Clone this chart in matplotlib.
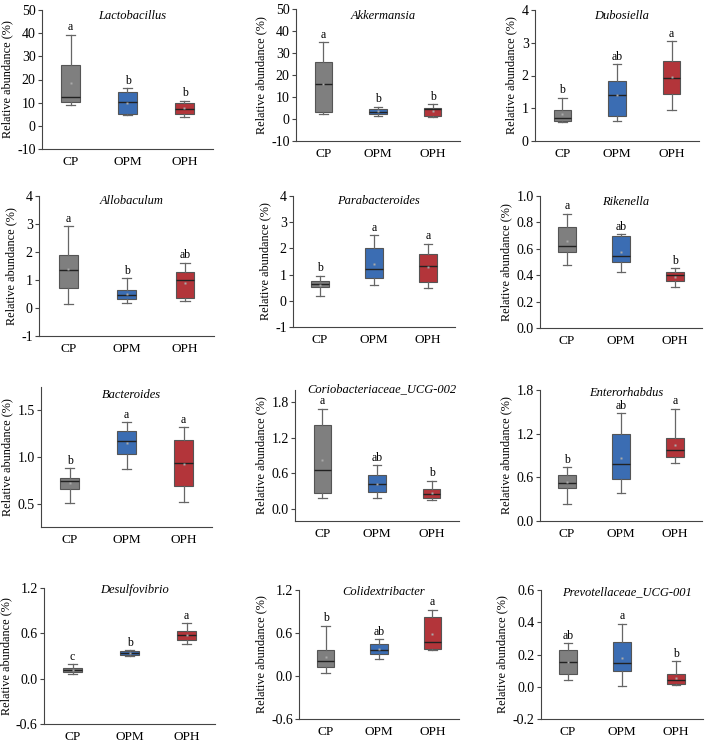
import matplotlib
matplotlib.use("Agg")
import matplotlib.pyplot as plt
from matplotlib.ticker import FormatStrFormatter

plt.rcParams['font.family'] = ['Liberation Serif', 'DejaVu Serif']
plt.rcParams['axes.unicode_minus'] = False

groups = ["CP", "OPM", "OPH"]
colors = ["#7f7f7f", "#3b6db3", "#b3353a"]

taxa = ["Lactobacillus", "Akkermansia", "Dubosiella",
        "Allobaculum", "Parabacteroides", "Rikenella",
        "Bacteroides", "Coriobacteriaceae_UCG-002", "Enterorhabdus",
        "Desulfovibrio", "Colidextribacter", "Prevotellaceae_UCG-001"]

# box statistics per taxon, one value per group (CP, OPM, OPH)
whis_lo = [[8.9, 4.8, 3.7], [2.1, 1.5, 0.8], [0.57, 0.60, 0.94],
           [0.16, 0.19, 0.24], [0.20, 0.61, 0.48], [0.481, 0.428, 0.311],
           [0.507, 0.867, 0.518], [0.189, 0.183, 0.161], [0.229, 0.38, 0.792],
           [0.066, 0.299, 0.461], [0.046, 0.237, 0.357], [0.043, 0.004, 0.008]]
q1 = [[10.5, 5.1, 5.0], [3.3, 2.3, 1.4], [0.62, 0.76, 1.42],
      [0.70, 0.31, 0.35], [0.53, 0.86, 0.73], [0.577, 0.499, 0.357],
      [0.662, 1.036, 0.691], [0.267, 0.294, 0.189], [0.454, 0.577, 0.884],
      [0.088, 0.316, 0.509], [0.121, 0.306, 0.371], [0.078, 0.099, 0.016]]
med = [[12.4, 10.1, 7.3], [15.8, 3.3, 4.4], [0.69, 1.39, 1.93],
       [1.34, 0.45, 1.00], [0.65, 1.20, 1.33], [0.620, 0.542, 0.400],
       [0.741, 1.173, 0.932], [0.656, 0.422, 0.256], [0.518, 0.779, 0.971],
       [0.114, 0.338, 0.584], [0.204, 0.366, 0.468], [0.153, 0.146, 0.043]]
q3 = [[26.3, 14.4, 9.8], [26.1, 4.6, 5.2], [0.94, 1.84, 2.44],
      [1.89, 0.63, 1.29], [0.77, 2.00, 1.77], [0.767, 0.694, 0.425],
      [0.780, 1.280, 1.183], [1.406, 0.567, 0.333], [0.627, 1.190, 1.145],
      [0.136, 0.360, 0.628], [0.357, 0.450, 0.830], [0.225, 0.276, 0.082]]
whis_hi = [[39.3, 16.3, 10.9], [34.9, 5.6, 6.7], [1.32, 2.35, 3.05],
           [2.92, 1.07, 1.62], [0.96, 2.51, 2.18], [0.866, 0.711, 0.451],
           [0.878, 1.374, 1.320], [1.683, 0.739, 0.478], [0.737, 1.480, 1.544],
           [0.189, 0.378, 0.737], [0.700, 0.515, 0.923], [0.270, 0.390, 0.157]]
means = [[18.4, 10.0, 7.5], [16.0, 3.5, 3.8], [0.81, 1.40, 1.95],
         [1.38, 0.50, 0.90], [0.62, 1.40, 1.30], [0.66, 0.577, 0.39],
         [0.72, 1.15, 0.93], [0.82, 0.42, 0.27], [0.54, 0.87, 1.05],
         [0.12, 0.34, 0.58], [0.27, 0.37, 0.58], [0.155, 0.18, 0.055]]
letters = [["a", "b", "b"], ["a", "b", "b"], ["b", "ab", "a"],
           ["a", "b", "ab"], ["b", "a", "a"], ["a", "ab", "b"],
           ["b", "a", "a"], ["a", "ab", "b"], ["b", "ab", "a"],
           ["c", "b", "a"], ["b", "ab", "a"], ["ab", "a", "b"]]

ylims = [(-10, 50), (-10, 50), (0, 4), (-1, 4), (-1, 4), (0, 1.0),
         (0.25, 1.75), (-0.2, 2.0), (0, 1.8), (-0.6, 1.2), (-0.6, 1.2), (-0.2, 0.6)]
yticks = [[-10, 0, 10, 20, 30, 40, 50], [-10, 0, 10, 20, 30, 40, 50], [0, 1, 2, 3, 4],
          [-1, 0, 1, 2, 3, 4], [-1, 0, 1, 2, 3, 4], [0, 0.2, 0.4, 0.6, 0.8, 1.0],
          [0.5, 1.0, 1.5], [0, 0.6, 1.2, 1.8], [0, 0.6, 1.2, 1.8],
          [-0.6, 0, 0.6, 1.2], [-0.6, 0, 0.6, 1.2], [-0.2, 0, 0.2, 0.4, 0.6]]
fmts = ["%d", "%d", "%d", "%d", "%d", "%.1f", "%.1f", "%.1f", "%.1f", "%.1f", "%.1f", "%.1f"]

# panel rectangles in pixels: left, top, right, bottom
rects = [(42, 10, 213, 149), (296, 9, 460, 141), (535, 10, 699, 141),
         (39, 196, 214, 336), (293, 196, 455, 327), (540, 196, 702, 328),
         (41, 387, 212, 527), (295, 390, 459, 521), (540, 390, 702, 521),
         (44, 588, 215, 724), (299, 590, 459, 719), (541, 590, 703, 719)]
# how far the italic name sits below the top of each panel, in pixels
title_drop = [6, 7, 6, 5.5, 5, 6, 8, -1, 2.5, 2, 2, 2]

W, H = 708, 745
fig = plt.figure(figsize=(W / 100, H / 100), dpi=100)

for k, name in enumerate(taxa):
    l, t, r, b = rects[k]
    ax = fig.add_axes([l / W, 1 - b / H, (r - l) / W, (b - t) / H])
    stats = []
    for j, g in enumerate(groups):
        stats.append(dict(label=g, whislo=whis_lo[k][j], q1=q1[k][j], med=med[k][j],
                          q3=q3[k][j], whishi=whis_hi[k][j], mean=means[k][j]))
    bp = ax.bxp(stats, positions=[1, 2, 3], widths=0.32, capwidths=0.16,
                patch_artist=True, showmeans=True, showfliers=False,
                boxprops=dict(edgecolor="#555555", linewidth=0.8),
                medianprops=dict(color="#222222", linewidth=1.0),
                whiskerprops=dict(color="#666666", linewidth=0.9),
                capprops=dict(color="#666666", linewidth=0.9),
                meanprops=dict(marker="s", markersize=1.5, markerfacecolor="#aaaaaa",
                               markeredgecolor="none"))
    for patch, c in zip(bp["boxes"], colors):
        patch.set_facecolor(c)

    for j in range(3):
        ax.annotate(letters[k][j], (j + 1, whis_hi[k][j]), xytext=(0, 1),
                    textcoords="offset points", ha="center", va="bottom", fontsize=8.5)

    ax.set_xlim(0.5, 3.5)
    ax.set_ylim(*ylims[k])
    ax.set_yticks(yticks[k])
    ax.yaxis.set_major_formatter(FormatStrFormatter(fmts[k]))
    ax.set_xticks([1, 2, 3])
    ax.set_xticklabels(groups)
    ax.tick_params(axis="y", direction="out", length=3, width=0.8, labelsize=10,
                   pad=1.5, color="#444444")
    ax.tick_params(axis="x", length=0, labelsize=9.5, pad=5)
    for s in ["top", "right"]:
        ax.spines[s].set_visible(False)
    for s in ["left", "bottom"]:
        ax.spines[s].set_color("#444444")
        ax.spines[s].set_linewidth(0.8)
    ax.set_ylabel("Relative abundance (%)", fontsize=8.8, labelpad=3)
    ax.annotate(name, (0.53, 1.0), xycoords="axes fraction",
                xytext=(0, -title_drop[k] * 0.72), textcoords="offset points",
                ha="center", va="center", fontsize=9, style="italic")

fig.savefig("out.png", dpi=100)
